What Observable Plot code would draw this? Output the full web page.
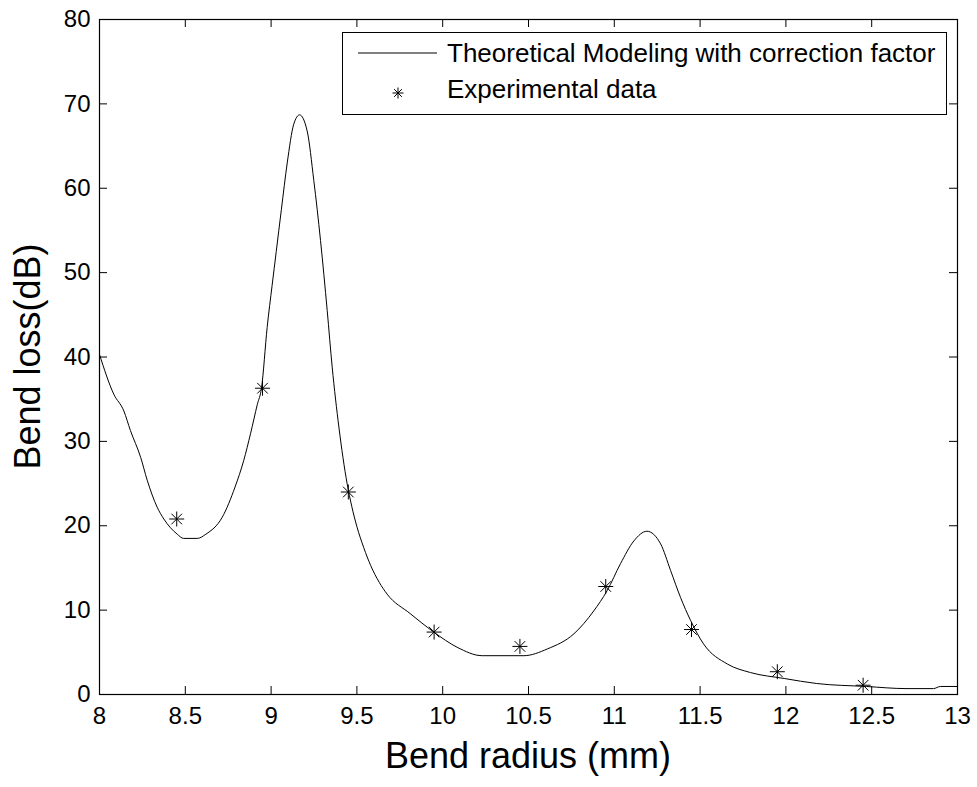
<!DOCTYPE html>
<html>
<head>
<meta charset="utf-8">
<script src="https://cdn.jsdelivr.net/npm/d3@7"></script>
<script src="https://cdn.jsdelivr.net/npm/@observablehq/plot@0.6"></script>
<style>
  html, body { margin: 0; padding: 0; background: white; }
  svg { display: block; }
</style>
</head>
<body>
<div id="chart"></div>
<script>
// ---- Data ----
const xTicks = [8, 8.5, 9, 9.5, 10, 10.5, 11, 11.5, 12, 12.5, 13];
const yTicks = [0, 10, 20, 30, 40, 50, 60, 70, 80];

// Theoretical modeling curve (bend radius mm, bend loss dB)
const modelRadius = [8.00, 8.083, 8.142, 8.18, 8.24, 8.278, 8.336, 8.375, 8.453, 8.49, 8.57, 8.62, 8.715, 8.79, 8.84, 8.88, 8.92, 8.944, 8.977, 9.006, 9.03, 9.06, 9.094, 9.132, 9.166, 9.21, 9.249, 9.288, 9.327, 9.356, 9.395, 9.443, 9.47, 9.5, 9.54, 9.58, 9.63, 9.676, 9.81, 9.948, 10.084, 10.23, 10.473, 10.61, 10.765, 10.88, 10.958, 11.036, 11.114, 11.19, 11.27, 11.328, 11.386, 11.444, 11.52, 11.66, 11.794, 11.99, 12.18, 12.47, 12.7, 12.86, 12.9, 13.0];
const modelLoss = [40.3, 35.6, 33.6, 31.3, 28.1, 25.4, 22.2, 20.8, 19.0, 18.5, 18.5, 19.0, 21.0, 24.6, 27.7, 30.9, 34.4, 36.3, 43.5, 48.5, 52.5, 57.5, 63.0, 67.6, 68.7, 66.8, 60.9, 53.8, 45.5, 38.8, 31.7, 25.0, 22.3, 19.9, 17.4, 15.3, 13.3, 11.9, 9.6, 7.4, 5.6, 4.6, 4.6, 5.4, 7.2, 9.9, 12.3, 15.5, 18.2, 19.35, 17.85, 14.7, 11.5, 8.8, 6.0, 3.6, 2.6, 1.9, 1.3, 0.95, 0.7, 0.7, 0.95, 0.95];

// Experimental data
const expRadius = [8.45, 8.95, 9.45, 9.95, 10.45, 10.95, 11.45, 11.95, 12.45];
const expLoss = [20.8, 36.3, 24.0, 7.4, 5.7, 12.8, 7.7, 2.7, 1.1];

const modelRows = modelRadius.map((x, i) => ({x, y: modelLoss[i]}));
const expRows = expRadius.map((x, i) => ({x, y: expLoss[i]}));

// MATLAB-like '*' marker (8 arms)
const starSymbol = {
  draw(ctx, size) {
    const r = Math.sqrt(size / Math.PI);
    const d = r * 0.7071;
    ctx.moveTo(0, -r); ctx.lineTo(0, r);
    ctx.moveTo(-r, 0); ctx.lineTo(r, 0);
    ctx.moveTo(-d, -d); ctx.lineTo(d, d);
    ctx.moveTo(-d, d); ctx.lineTo(d, -d);
  }
};

const W = 977, H = 787;
const mL = 99, mR = 20, mT = 19, mB = 93;
const plotH = H - mT - mB;
const plotW = W - mL - mR;
const tickLen = 8;
const fmt = d => String(d);

const chart = Plot.plot({
  width: W,
  height: H,
  marginLeft: mL,
  marginRight: mR,
  marginTop: mT,
  marginBottom: mB,
  style: {fontFamily: "'Liberation Sans', Arial, Helvetica, sans-serif", background: "white", color: "black"},
  x: {domain: [8, 13]},
  y: {domain: [0, 80]},
  marks: [
    Plot.axisX(xTicks, {tickSize: 0, tickPadding: 12, fontSize: 24, tickFormat: fmt, label: null}),
    Plot.axisY(yTicks, {tickSize: 0, tickPadding: 9, fontSize: 24, tickFormat: fmt, label: null}),
    Plot.tickX(xTicks, {x: d => d, insetTop: plotH - tickLen, stroke: "black"}),
    Plot.tickX(xTicks, {x: d => d, insetBottom: plotH - tickLen, stroke: "black"}),
    Plot.tickY(yTicks, {y: d => d, insetRight: plotW - tickLen, stroke: "black"}),
    Plot.tickY(yTicks, {y: d => d, insetLeft: plotW - tickLen, stroke: "black"}),
    Plot.line(modelRows, {x: "x", y: "y", stroke: "black", strokeWidth: 1, curve: "monotone-x"}),
    Plot.dot(expRows, {x: "x", y: "y", symbol: starSymbol, r: 7.5, stroke: "black", strokeWidth: 1, fill: "none"}),
    Plot.frame({stroke: "black", strokeWidth: 1.2})
  ]
});

const svg = d3.select(chart);
const font = "'Liberation Sans', Arial, Helvetica, sans-serif";

// Legend
const lg = svg.append("g").attr("class", "legend").attr("text-anchor", "start");
lg.append("rect").attr("x", 342.5).attr("y", 32.5).attr("width", 604).attr("height", 82)
  .attr("fill", "white").attr("stroke", "black").attr("stroke-width", 1);
lg.append("line").attr("x1", 358).attr("x2", 437).attr("y1", 53).attr("y2", 53)
  .attr("stroke", "black").attr("stroke-width", 1);
lg.append("text").attr("x", 447).attr("y", 62).attr("text-anchor", "start").attr("font-family", font).attr("font-size", 26)
  .attr("fill", "black").text("Theoretical Modeling with correction factor");
const sp = d3.path();
starSymbol.draw(sp, Math.PI * 5.5 * 5.5);
lg.append("path").attr("d", sp.toString()).attr("transform", "translate(398,93)")
  .attr("stroke", "black").attr("fill", "none").attr("stroke-width", 1);
lg.append("text").attr("x", 447).attr("y", 98).attr("text-anchor", "start").attr("font-family", font).attr("font-size", 26)
  .attr("fill", "black").text("Experimental data");

// Axis labels
svg.append("text").attr("x", mL + plotW / 2).attr("y", 768).attr("text-anchor", "middle")
  .attr("font-family", font).attr("font-size", 36).attr("fill", "black").text("Bend radius (mm)");
svg.append("text").attr("transform", `translate(40,${mT + plotH / 2}) rotate(-90)`).attr("text-anchor", "middle")
  .attr("font-family", font).attr("font-size", 36).attr("fill", "black").text("Bend loss(dB)");

document.getElementById("chart").appendChild(chart);
</script>
</body>
</html>
